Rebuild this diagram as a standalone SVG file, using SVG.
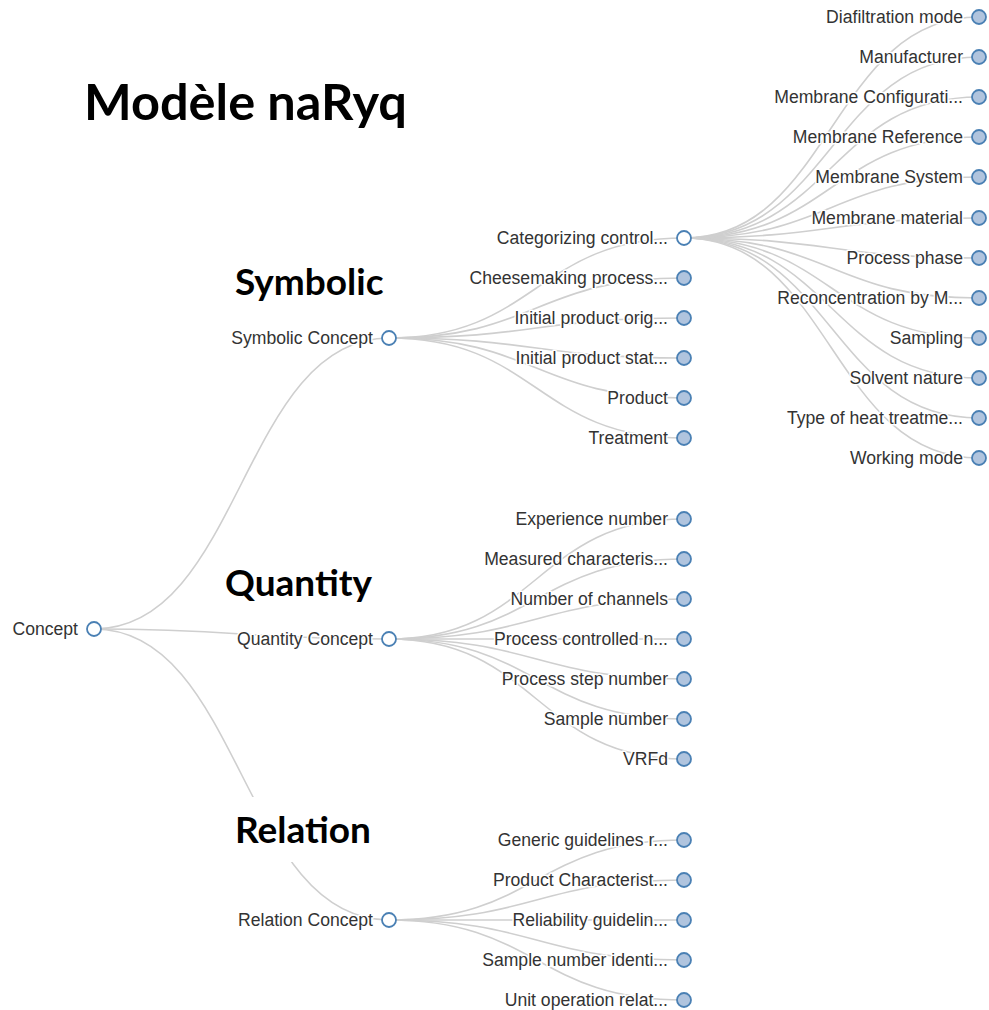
<svg xmlns="http://www.w3.org/2000/svg" width="989" height="1010" viewBox="0 0 989 1010">
<style>
.link{fill:none;stroke:#cfcfcf;stroke-width:1.6}
.open{fill:#fff;stroke:#4a80b4;stroke-width:1.8}
.leaf{fill:#b0c4de;stroke:#4a80b4;stroke-width:1.8}
.lbl{font-family:"Liberation Sans",Arial,sans-serif;font-size:17.6px;fill:#333;text-anchor:end;stroke:#fff;stroke-width:3;paint-order:stroke;stroke-linejoin:round}
.sec{font-family:Lato,"Liberation Sans",sans-serif;font-weight:bold;font-size:37px;fill:#000}
.title{font-family:Lato,"Liberation Sans",sans-serif;font-weight:bold;font-size:50.5px;fill:#000}
</style>
<rect width="989" height="1010" fill="#fff"/>
<g id="connectors">
<path class="link" d="M94,629C241.5,629 241.5,338 389,338"/>
<path class="link" d="M94,629C241.5,629 241.5,639 389,639"/>
<path class="link" d="M94,629C241.5,629 241.5,920 389,920"/>
<path class="link" d="M389,338C536.5,338 536.5,238 684,238"/>
<path class="link" d="M389,338C536.5,338 536.5,278 684,278"/>
<path class="link" d="M389,338C536.5,338 536.5,318 684,318"/>
<path class="link" d="M389,338C536.5,338 536.5,358 684,358"/>
<path class="link" d="M389,338C536.5,338 536.5,398 684,398"/>
<path class="link" d="M389,338C536.5,338 536.5,438 684,438"/>
<path class="link" d="M389,639C536.5,639 536.5,519 684,519"/>
<path class="link" d="M389,639C536.5,639 536.5,559 684,559"/>
<path class="link" d="M389,639C536.5,639 536.5,599 684,599"/>
<path class="link" d="M389,639C536.5,639 536.5,639 684,639"/>
<path class="link" d="M389,639C536.5,639 536.5,679 684,679"/>
<path class="link" d="M389,639C536.5,639 536.5,719 684,719"/>
<path class="link" d="M389,639C536.5,639 536.5,759 684,759"/>
<path class="link" d="M389,920C536.5,920 536.5,840 684,840"/>
<path class="link" d="M389,920C536.5,920 536.5,880 684,880"/>
<path class="link" d="M389,920C536.5,920 536.5,920 684,920"/>
<path class="link" d="M389,920C536.5,920 536.5,960 684,960"/>
<path class="link" d="M389,920C536.5,920 536.5,1000 684,1000"/>
<path class="link" d="M684,238C831.5,238 831.5,17 979,17"/>
<path class="link" d="M684,238C831.5,238 831.5,57 979,57"/>
<path class="link" d="M684,238C831.5,238 831.5,97 979,97"/>
<path class="link" d="M684,238C831.5,238 831.5,137 979,137"/>
<path class="link" d="M684,238C831.5,238 831.5,177 979,177"/>
<path class="link" d="M684,238C831.5,238 831.5,218 979,218"/>
<path class="link" d="M684,238C831.5,238 831.5,258 979,258"/>
<path class="link" d="M684,238C831.5,238 831.5,298 979,298"/>
<path class="link" d="M684,238C831.5,238 831.5,338 979,338"/>
<path class="link" d="M684,238C831.5,238 831.5,378 979,378"/>
<path class="link" d="M684,238C831.5,238 831.5,418 979,418"/>
<path class="link" d="M684,238C831.5,238 831.5,458 979,458"/>
</g>
<g id="labels">
<text class="title" x="84" y="120">Modèle naRyq</text>
<rect x="228" y="258" width="160" height="48" fill="#fff"/>
<text class="sec" x="235" y="295">Symbolic</text>
<rect x="220" y="560" width="160" height="50" fill="#fff"/>
<text class="sec" x="225" y="596">Quantity</text>
<rect x="225" y="797" width="160" height="65" fill="#fff"/>
<text class="sec" x="235" y="843">Relation</text>
</g>
<g id="n-concept"><circle class="open" cx="94" cy="629" r="7"/><text class="lbl" x="78" y="635">Concept</text></g>
<g id="n-symbolic"><circle class="open" cx="389" cy="338" r="7"/><text class="lbl" x="373" y="344">Symbolic Concept</text></g>
<g id="n-quantity"><circle class="open" cx="389" cy="639" r="7"/><text class="lbl" x="373" y="645">Quantity Concept</text></g>
<g id="n-relation"><circle class="open" cx="389" cy="920" r="7"/><text class="lbl" x="373" y="926">Relation Concept</text></g>
<g id="n-categorizing"><circle class="open" cx="684" cy="238" r="7"/><text class="lbl" x="668" y="244">Categorizing control...</text></g>
<g id="n-cheesemaking"><circle class="leaf" cx="684" cy="278" r="7"/><text class="lbl" x="668" y="284">Cheesemaking process...</text></g>
<g id="n-initorig"><circle class="leaf" cx="684" cy="318" r="7"/><text class="lbl" x="668" y="324">Initial product orig...</text></g>
<g id="n-initstat"><circle class="leaf" cx="684" cy="358" r="7"/><text class="lbl" x="668" y="364">Initial product stat...</text></g>
<g id="n-product"><circle class="leaf" cx="684" cy="398" r="7"/><text class="lbl" x="668" y="404">Product</text></g>
<g id="n-treatment"><circle class="leaf" cx="684" cy="438" r="7"/><text class="lbl" x="668" y="444">Treatment</text></g>
<g id="n-experience"><circle class="leaf" cx="684" cy="519" r="7"/><text class="lbl" x="668" y="525">Experience number</text></g>
<g id="n-measured"><circle class="leaf" cx="684" cy="559" r="7"/><text class="lbl" x="668" y="565">Measured characteris...</text></g>
<g id="n-channels"><circle class="leaf" cx="684" cy="599" r="7"/><text class="lbl" x="668" y="605">Number of channels</text></g>
<g id="n-processcontrolled"><circle class="leaf" cx="684" cy="639" r="7"/><text class="lbl" x="668" y="645">Process controlled n...</text></g>
<g id="n-processstep"><circle class="leaf" cx="684" cy="679" r="7"/><text class="lbl" x="668" y="685">Process step number</text></g>
<g id="n-samplenumber"><circle class="leaf" cx="684" cy="719" r="7"/><text class="lbl" x="668" y="725">Sample number</text></g>
<g id="n-vrfd"><circle class="leaf" cx="684" cy="759" r="7"/><text class="lbl" x="668" y="765">VRFd</text></g>
<g id="n-generic"><circle class="leaf" cx="684" cy="840" r="7"/><text class="lbl" x="668" y="846">Generic guidelines r...</text></g>
<g id="n-prodchar"><circle class="leaf" cx="684" cy="880" r="7"/><text class="lbl" x="668" y="886">Product Characterist...</text></g>
<g id="n-reliability"><circle class="leaf" cx="684" cy="920" r="7"/><text class="lbl" x="668" y="926">Reliability guidelin...</text></g>
<g id="n-sampleident"><circle class="leaf" cx="684" cy="960" r="7"/><text class="lbl" x="668" y="966">Sample number identi...</text></g>
<g id="n-unitop"><circle class="leaf" cx="684" cy="1000" r="7"/><text class="lbl" x="668" y="1006">Unit operation relat...</text></g>
<g id="n-diafiltration"><circle class="leaf" cx="979" cy="17" r="7"/><text class="lbl" x="963" y="23">Diafiltration mode</text></g>
<g id="n-manufacturer"><circle class="leaf" cx="979" cy="57" r="7"/><text class="lbl" x="963" y="63">Manufacturer</text></g>
<g id="n-memconfig"><circle class="leaf" cx="979" cy="97" r="7"/><text class="lbl" x="963" y="103">Membrane Configurati...</text></g>
<g id="n-memref"><circle class="leaf" cx="979" cy="137" r="7"/><text class="lbl" x="963" y="143">Membrane Reference</text></g>
<g id="n-memsys"><circle class="leaf" cx="979" cy="177" r="7"/><text class="lbl" x="963" y="183">Membrane System</text></g>
<g id="n-memmat"><circle class="leaf" cx="979" cy="218" r="7"/><text class="lbl" x="963" y="224">Membrane material</text></g>
<g id="n-phase"><circle class="leaf" cx="979" cy="258" r="7"/><text class="lbl" x="963" y="264">Process phase</text></g>
<g id="n-reconc"><circle class="leaf" cx="979" cy="298" r="7"/><text class="lbl" x="963" y="304">Reconcentration by M...</text></g>
<g id="n-sampling"><circle class="leaf" cx="979" cy="338" r="7"/><text class="lbl" x="963" y="344">Sampling</text></g>
<g id="n-solvent"><circle class="leaf" cx="979" cy="378" r="7"/><text class="lbl" x="963" y="384">Solvent nature</text></g>
<g id="n-heat"><circle class="leaf" cx="979" cy="418" r="7"/><text class="lbl" x="963" y="424">Type of heat treatme...</text></g>
<g id="n-working"><circle class="leaf" cx="979" cy="458" r="7"/><text class="lbl" x="963" y="464">Working mode</text></g>
</svg>
